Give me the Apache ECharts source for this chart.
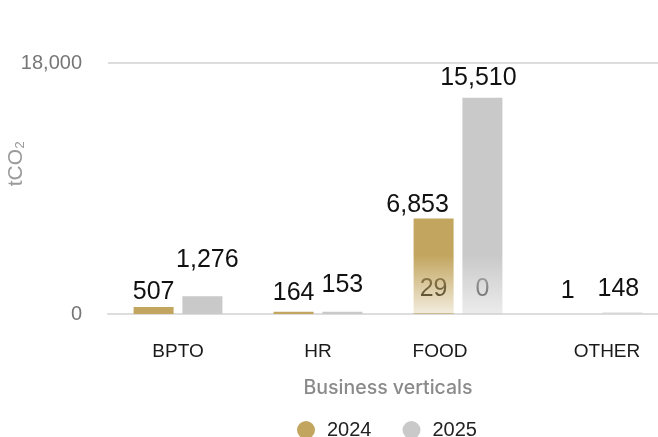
<!DOCTYPE html>
<html>
<head>
<meta charset="utf-8">
<script src="https://cdn.jsdelivr.net/npm/echarts@6/dist/echarts.min.js"></script>
<style>
  html, body { margin: 0; padding: 0; background: #ffffff; }
  #chart { width: 658px; height: 437px; }
</style>
</head>
<body>
<div id="chart"></div>
<script>
// Emissions per business vertical (tCO2)
const categories = ['BPTO', 'HR', 'FOOD', 'OTHER'];
const seriesNames = ['2024', '2025'];
const values2024 = [507, 164, 6853, 1];
const values2025 = [1276, 153, 15510, 148];
// secondary FOOD figures printed at the foot of the FOOD bars
const sub2024 = [null, null, 29, null];
const sub2025 = [null, null, 0, null];
const yTicks = [0, 18000];

const GOLD = '#c2a55e';
const GREY = '#c9c9c9';
const FONT = "'Liberation Sans', Arial, Helvetica, sans-serif";
// verticals whose bars fade out toward the baseline
const fadedCats = ['FOOD', 'OTHER'];

// value-label placement per series, one entry per vertical:
// gap above the bar and sideways nudge
const labelGap = { '2024': [2, 6, 1, 10], '2025': [24, 14, 7, 10] };
const labelNudge = { '2024': [0, 0, -16, -6], '2025': [5, 0, -4, -4] };

function hexToRgb(hex) {
  const n = parseInt(hex.slice(1), 16);
  return [(n >> 16) & 255, (n >> 8) & 255, n & 255];
}
function fade(hex, bottomAlpha) {
  const [r, g, b] = hexToRgb(hex);
  return new echarts.graphic.LinearGradient(0, 255, 0, 314, [
    { offset: 0, color: `rgba(${r},${g},${b},1)` },
    { offset: 1, color: `rgba(${r},${g},${b},${bottomAlpha})` }
  ], true);
}
function barData(name, vals, color, bottomAlpha) {
  return vals.map((v, i) => {
    const item = {
      value: v,
      label: { distance: labelGap[name][i], offset: [labelNudge[name][i], 0] }
    };
    if (fadedCats.includes(categories[i])) {
      item.itemStyle = { color: fade(color, bottomAlpha) };
    }
    return item;
  });
}
const fmt = (p) => (p.value == null ? '' : Number(p.value).toLocaleString('en-US'));

const valueLabel = {
  show: true,
  position: 'top',
  distance: 12,
  fontFamily: FONT,
  fontSize: 25,
  color: '#111111',
  formatter: fmt
};

const barCommon = { type: 'bar', barWidth: 40, barGap: '22%' };

const chart = echarts.init(document.getElementById('chart'), null, { renderer: 'canvas' });
chart.setOption({
  animation: false,
  backgroundColor: '#ffffff',
  grid: { left: 108, right: -10, top: 63, bottom: 123, containLabel: false, outerBoundsMode: 'none' },
  legend: {
    data: seriesNames,
    left: 292,
    top: 415,
    icon: 'circle',
    itemWidth: 18,
    itemHeight: 18,
    itemGap: 31,
    textStyle: { fontFamily: FONT, fontSize: 20, color: '#222222', padding: [0, 0, 0, 7] }
  },
  xAxis: [
    {
      type: 'category',
      data: categories,
      name: 'Business verticals',
      nameLocation: 'middle',
      nameGap: 64,
      nameMoveOverlap: false,
      nameTextStyle: { fontFamily: "Inter, 'Liberation Sans', sans-serif", fontWeight: 500, fontSize: 19.5, color: '#8a8a8a' },
      axisLine: { lineStyle: { color: '#dddddd', width: 2 } },
      axisTick: { show: false },
      axisLabel: {
        margin: 28,
        fontFamily: FONT,
        fontSize: 19,
        color: '#1a1a1a',
        formatter: (v) => (v === 'FOOD' ? '{l|' + v + '}' : v === 'OTHER' ? '{r|' + v + '}' : v),
        rich: {
          l: { fontFamily: FONT, fontSize: 19, color: '#1a1a1a', padding: [0, 36, 0, 0] },
          r: { fontFamily: FONT, fontSize: 19, color: '#1a1a1a', padding: [0, 0, 0, 18] }
        }
      }
    },
    { type: 'category', data: categories, show: false }
  ],
  yAxis: {
    type: 'value',
    min: yTicks[0],
    max: yTicks[yTicks.length - 1],
    interval: yTicks[1] - yTicks[0],
    name: 'tCO₂',
    nameLocation: 'middle',
    nameGap: 81,
    nameMoveOverlap: false,
    nameTextStyle: { fontFamily: FONT, fontSize: 21, color: '#9a9a9a', padding: [0, 0, 0, 50] },
    axisLine: { show: false },
    axisTick: { show: false },
    splitLine: { lineStyle: { color: '#dddddd', width: 2 } },
    axisLabel: {
      margin: 26,
      fontFamily: FONT,
      fontSize: 20,
      color: '#777777',
      formatter: (v) => Number(v).toLocaleString('en-US')
    }
  },
  series: [
    Object.assign({}, barCommon, {
      name: seriesNames[0], xAxisIndex: 1, z: 1,
      itemStyle: { color: GOLD }, label: valueLabel, data: sub2024
    }),
    Object.assign({}, barCommon, {
      name: seriesNames[1], xAxisIndex: 1, z: 1,
      itemStyle: { color: GREY }, label: valueLabel, data: sub2025
    }),
    Object.assign({}, barCommon, {
      name: seriesNames[0], z: 3,
      itemStyle: { color: GOLD }, label: valueLabel,
      data: barData(seriesNames[0], values2024, GOLD, 0.2)
    }),
    Object.assign({}, barCommon, {
      name: seriesNames[1], z: 3,
      itemStyle: { color: GREY }, label: valueLabel,
      data: barData(seriesNames[1], values2025, GREY, 0.35)
    })
  ]
});
</script>
</body>
</html>
